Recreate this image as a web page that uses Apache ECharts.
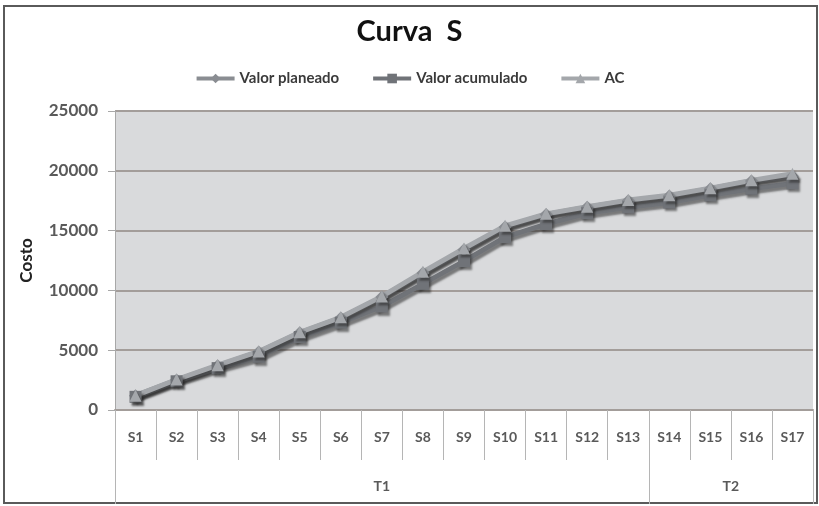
<!DOCTYPE html>
<html>
<head>
<meta charset="utf-8">
<script src="https://cdn.jsdelivr.net/npm/echarts@6/dist/echarts.min.js"></script>
<style>
  html, body { margin: 0; padding: 0; background: #ffffff; }
  #frame { position: absolute; left: 3px; top: 5px; width: 811px; height: 495px; border: 2px solid #5a5a5a; background: #fff; }
  #chart { position: absolute; left: -5px; top: -7px; width: 819px; height: 506px; }
</style>
</head>
<body>
<div id="frame"><div id="chart"></div></div>
<script>
// Weekly periods and their grouping into terms
const weeks = ['S1','S2','S3','S4','S5','S6','S7','S8','S9','S10','S11','S12','S13','S14','S15','S16','S17'];
const terms = ['T1', 'T2'];
const termSpans = [13, 4];

// Cumulative cost per week
const valorPlaneado   = [1200, 2500, 3700, 4850, 6450, 7700, 9450, 11450, 13400, 15300, 16350, 16950, 17500, 17900, 18500, 19150, 19550];
const valorAcumulado  = [1100, 2400, 3500, 4450, 6100, 7300, 8650, 10550, 12450, 14450, 15550, 16450, 16950, 17350, 17950, 18500, 18950];
const costoReal       = [1200, 2550, 3750, 4900, 6500, 7750, 9500, 11550, 13500, 15400, 16400, 17000, 17550, 17950, 18550, 19200, 19750];

const yTicks = { min: 0, max: 25000, interval: 5000 };

// Half-week slots for the term level of the category axis
const halfSlots = [];
for (let i = 0; i <= weeks.length * 2; i++) halfSlots.push('h' + i);
const termLabelAt = {};
const termBoundary = { 0: true };
let start = 0;
terms.forEach((t, k) => {
  termLabelAt[start * 2 + termSpans[k]] = t;
  start += termSpans[k];
  termBoundary[start * 2] = true;
});

const font = 'Lato, "Open Sans", sans-serif';
const shadow = { shadowColor: 'rgba(40,40,40,0.55)', shadowBlur: 2, shadowOffsetX: 2, shadowOffsetY: 3 };

function lineSeries(name, data, color, symbol, size) {
  return {
    name, type: 'line', data,
    xAxisIndex: 0,
    symbol, symbolSize: size,
    showSymbol: true,
    lineStyle: Object.assign({ color, width: 5 }, shadow),
    itemStyle: Object.assign({ color, borderWidth: 0 }, shadow),
    emphasis: { disabled: true },
    animation: false
  };
}

const chart = echarts.init(document.getElementById('chart'), null, { renderer: 'canvas' });
chart.setOption({
  backgroundColor: 'transparent',
  textStyle: { fontFamily: font },
  title: {
    text: 'Curva  S',
    left: 'center', top: 12,
    textStyle: { fontFamily: font, fontSize: 29, fontWeight: 'bold', color: '#111' }
  },
  legend: {
    top: 66, left: 'center',
    itemWidth: 38, itemHeight: 12, itemGap: 32,
    lineStyle: { width: 4 },
    textStyle: { fontFamily: font, fontSize: 15, fontWeight: 'bold', color: '#3a3a3a' },
    data: ['Valor planeado', 'Valor acumulado', 'AC']
  },
  grid: {
    left: 115, right: 6, top: 111, bottom: 96,
    show: true, backgroundColor: '#d9dadc', borderWidth: 0
  },
  xAxis: [
    {
      type: 'category', data: weeks, boundaryGap: true, position: 'bottom',
      axisLine: { show: true, lineStyle: { color: '#a39d9a', width: 2 } },
      axisTick: { show: true, interval: 0, length: 50, lineStyle: { color: '#b5b5b5', width: 1 } },
      axisLabel: { interval: 0, margin: 20, fontFamily: font, fontSize: 14, fontWeight: 'bold', color: '#5a5a5a' },
      splitLine: { show: false }
    },
    {
      type: 'category', data: halfSlots, boundaryGap: false, position: 'bottom', offset: 0,
      axisLine: { show: false },
      axisTick: { show: true, length: 94, interval: (i) => !!termBoundary[i], lineStyle: { color: '#b5b5b5', width: 1 } },
      axisLabel: {
        interval: (i) => termLabelAt[i] !== undefined,
        formatter: (v, i) => termLabelAt[i] || '',
        margin: 69, fontFamily: font, fontSize: 14, fontWeight: 'bold', color: '#5a5a5a'
      },
      splitLine: { show: false }
    }
  ],
  yAxis: {
    type: 'value', min: yTicks.min, max: yTicks.max, interval: yTicks.interval,
    name: 'Costo', nameLocation: 'middle', nameGap: 80, nameRotate: 90,
    nameTextStyle: { fontFamily: font, fontSize: 17, fontWeight: 'bold', color: '#222' },
    axisLine: { show: true, lineStyle: { color: '#a8a8a8', width: 1 } },
    axisTick: { show: true, length: 7, lineStyle: { color: '#a8a8a8' } },
    axisLabel: { margin: 17, formatter: (v) => String(v), fontFamily: font, fontSize: 17, fontWeight: 'bold', color: '#5a5a5a' },
    splitLine: { show: true, lineStyle: { color: '#a39d9a', width: 2 } }
  },
  series: [
    lineSeries('Valor planeado', valorPlaneado, '#8a8d92', 'diamond', 13),
    lineSeries('Valor acumulado', valorAcumulado, '#707378', 'rect', 12),
    lineSeries('AC', costoReal, '#a4a7ab', 'triangle', 12)
  ]
});
</script>
</body>
</html>
